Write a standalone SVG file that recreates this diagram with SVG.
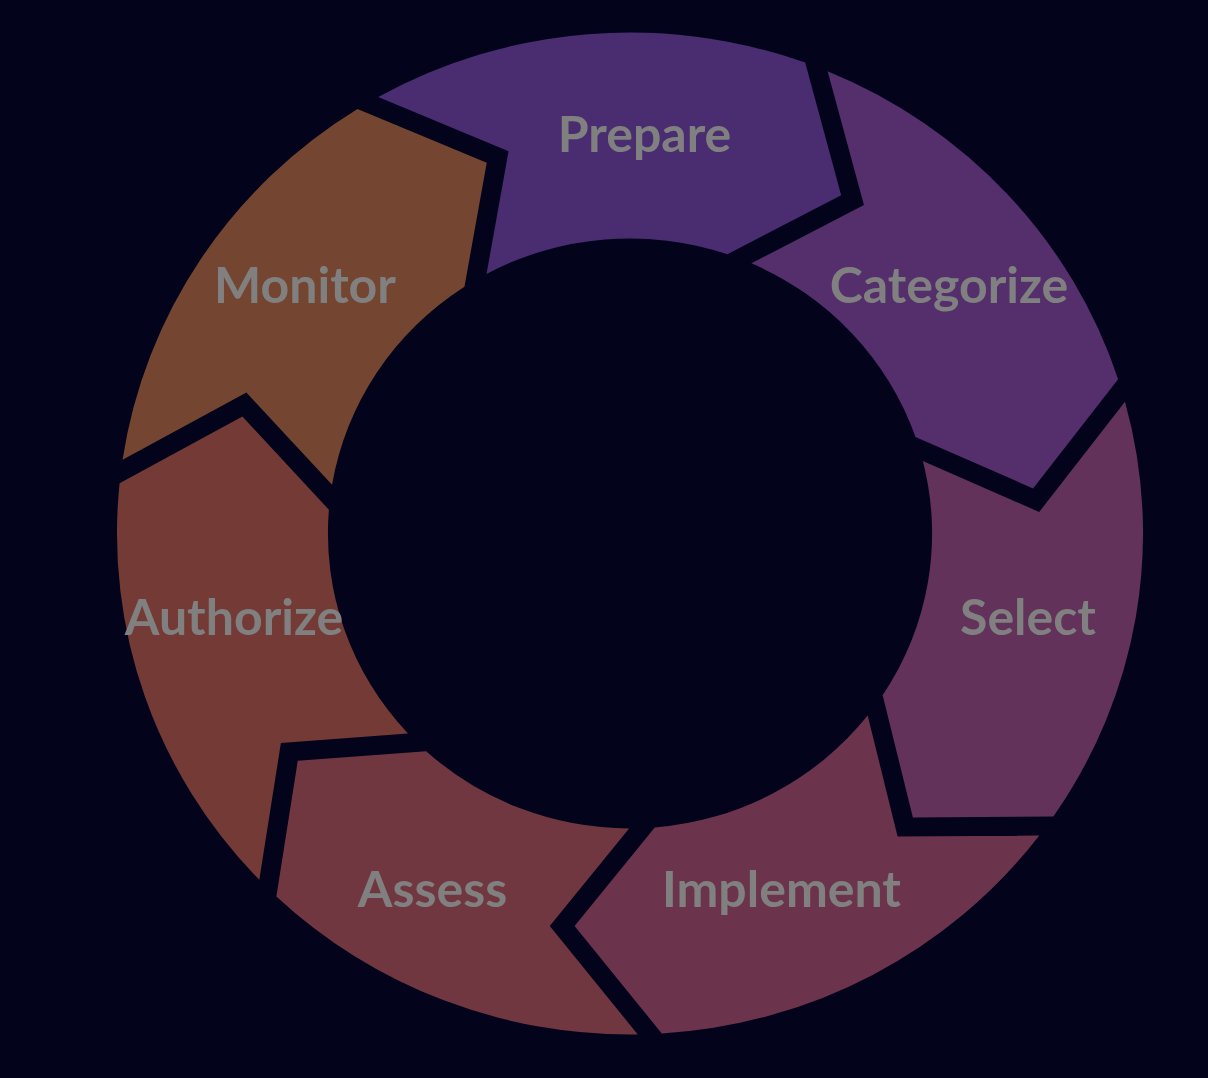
<svg xmlns="http://www.w3.org/2000/svg" width="1208" height="1078" viewBox="0 0 1208 1078">
<style>
.lbl{font-family:Lato,"Open Sans","Liberation Sans",sans-serif;font-weight:700;font-size:50px;fill:#808080;text-anchor:middle}
</style>
<rect width="1208" height="1078" fill="#03041c"/>
<g id="connectors"/>
<g id="prepare">
<path fill="#4a2c70" transform="translate(630 533.5) scale(1.024 1)" d="M -245.89 -436.51 A 501 501 0 0 1 171.07 -470.89 L 206.23 -338.26 L 95.16 -279.23 A 295 295 0 0 0 -140.11 -259.61 L -118.59 -382.22 Z"/>
<text class="lbl" x="644.5" y="152">Prepare</text>
</g>
<g id="categorize">
<path fill="#552e6c" transform="translate(630 533.5) scale(1.024 1)" d="M 192.99 -462.33 A 501 501 0 0 1 476.66 -154.27 L 393.60 -45.05 L 278.79 -96.44 A 295 295 0 0 0 118.55 -270.13 L 228.47 -328.56 Z"/>
<text class="lbl" x="949" y="303">Categorize</text>
</g>
<g id="select">
<path fill="#62325a" transform="translate(630 533.5) scale(1.024 1)" d="M 483.37 -131.72 A 501 501 0 0 1 413.45 282.94 L 276.25 283.97 L 246.74 161.70 A 295 295 0 0 0 285.98 -72.39 L 399.61 -21.55 Z"/>
<text class="lbl" x="1028" y="635">Select</text>
</g>
<g id="implement">
<path fill="#6c344c" transform="translate(630 533.5) scale(1.024 1)" d="M 399.71 302.05 A 501 501 0 0 1 31.06 500.04 L -54.11 392.46 L 24.18 294.01 A 295 295 0 0 0 232.10 182.08 L 261.32 303.09 Z"/>
<text class="lbl" x="781.5" y="907">Implement</text>
</g>
<g id="assess">
<path fill="#713740" transform="translate(630 533.5) scale(1.024 1)" d="M 7.55 500.94 A 501 501 0 0 1 -345.35 362.95 L -324.44 227.35 L -199.03 217.74 A 295 295 0 0 0 -0.90 295.0 L -78.37 392.44 Z"/>
<text class="lbl" x="432.5" y="907">Assess</text>
</g>
<g id="authorize">
<path fill="#733a36" transform="translate(630 533.5) scale(1.024 1)" d="M -362.01 346.34 A 501 501 0 0 1 -498.46 -50.33 L -378.51 -116.95 L -294.04 -23.76 A 295 295 0 0 0 -216.81 200.04 L -340.94 209.56 Z"/>
<text class="lbl" x="234" y="635">Authorize</text>
</g>
<g id="monitor">
<path fill="#744631" transform="translate(630 533.5) scale(1.024 1)" d="M -495.55 -73.68 A 501 501 0 0 1 -266.11 -424.48 L -139.91 -370.65 L -161.67 -246.76 A 295 295 0 0 0 -290.96 -48.66 L -374.57 -140.89 Z"/>
<text class="lbl" x="305" y="303">Monitor</text>
</g>
</svg>
